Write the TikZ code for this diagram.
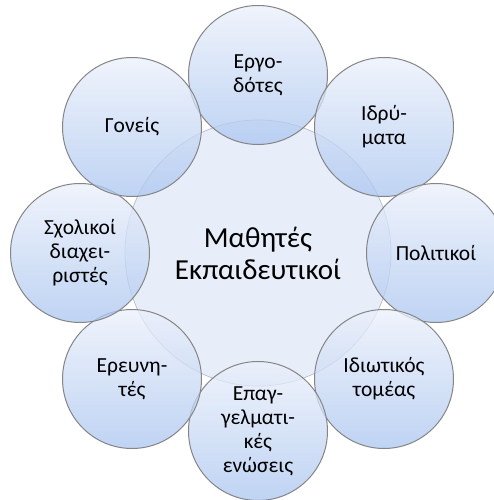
\documentclass[tikz,border=0pt]{standalone}
\usepackage{fontspec}
\setmainfont{Carlito}
\definecolor{ringtop}{HTML}{EBF0FB}
\definecolor{ringbot}{HTML}{AAC5F0}
\definecolor{ringline}{HTML}{858585}
\definecolor{hubfill}{HTML}{E8EEF9}
\definecolor{hubline}{HTML}{BCC3CE}
\tikzset{
  hub/.style={circle, draw=hubline, line width=0.8pt, fill=hubfill,
    minimum size=266pt, inner sep=0pt, align=center},
  partner/.style={circle, draw=ringline, line width=1pt,
    top color=ringtop, bottom color=ringbot, fill opacity=0.75,
    text opacity=1, minimum size=139pt, inner sep=0pt, align=center,
    font=\fontsize{21.5}{24}\selectfont}
}
\begin{document}
\begin{tikzpicture}[x=1pt,y=1pt]
\useasboundingbox (-258,-247) rectangle (235,253);
\fill[white] (-258,-247) rectangle (235,253);
\node[hub] (hub) at (0,0) {};
\node[partner] (employers) at (0,178) {Εργο-\\δότες};
\node[partner] (foundations) at (126,126) {Ιδρύ-\\ματα};
\node[partner] (politicians) at (178,0) {Πολιτικοί};
\node[partner] (private) at (126,-126) {Ιδιωτικός\\τομέας};
\node[partner] (unions) at (0,-178) {Επαγ-\\γελματι-\\κές\\ενώσεις};
\node[partner] (researchers) at (-126,-126) {Ερευνη-\\τές};
\node[partner] (managers) at (-178,0) {Σχολικοί\\διαχει-\\ριστές};
\node[partner] (parents) at (-126,126) {Γονείς};
\node[font=\fontsize{29}{32}\selectfont, align=center] (hubtext) at (hub.center)
{Μαθητές\\Εκπαιδευτικοί};
\end{tikzpicture}
\end{document}
